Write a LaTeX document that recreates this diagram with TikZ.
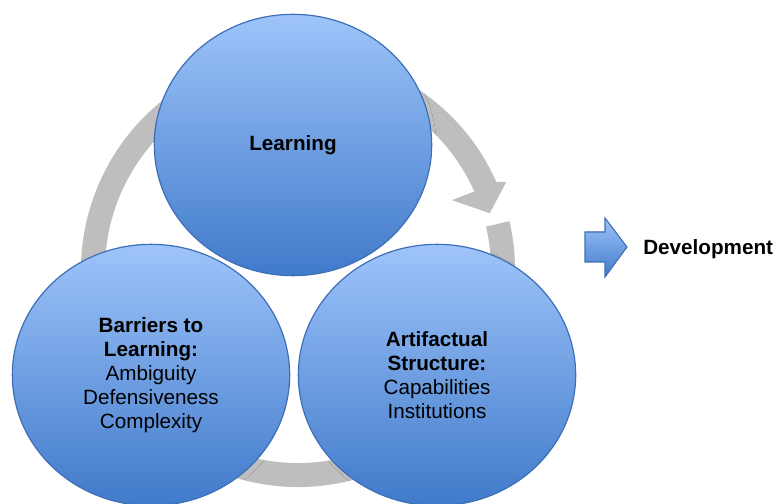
\documentclass[tikz,border=0pt]{standalone}
\usepackage{fontspec}
\setmainfont{Liberation Sans}
\usetikzlibrary{shapes.geometric,shadows.blur}
\definecolor{blueTop}{RGB}{158,196,250}
\definecolor{blueBot}{RGB}{64,122,202}
\definecolor{blueEdge}{RGB}{62,111,182}
\definecolor{ringGray}{RGB}{190,190,190}
\begin{document}
\begin{tikzpicture}[x=0.75pt,y=0.75pt,
  bubble/.style={ellipse, draw=blueEdge, line width=0.9pt,
    top color=blueTop, bottom color=blueBot,
    minimum width=208pt, minimum height=196pt, inner sep=0pt,
    align=center, font=\fontsize{15.5}{18}\selectfont,
    blur shadow={shadow xshift=1.5pt, shadow yshift=-2pt, shadow opacity=0.25, shadow blur steps=6}},
  ringfill/.style={fill=ringGray},
  txt/.style={font=\fontsize{15.5}{18}\selectfont\bfseries}
]
\useasboundingbox (0,0) rectangle (780,503);
% circular arrow behind the bubbles
\fill[ringfill] ([shift={(298,233)}]13:193) arc[start angle=13, end angle=-336, radius=193]
  -- ([shift={(298,233)}]-335.6:169)
  -- ([shift={(298,233)}]-343.5:200)
  -- ([shift={(298,233)}]-337.1:226)
  -- ([shift={(298,233)}]-336:217)
  arc[start angle=-336, end angle=13, radius=217] -- cycle;
% bubbles
\node[bubble] (learn) at (293,358) {\textbf{Learning}};
\node[bubble] (barr) at (151,128) {\textbf{Barriers to}\\\textbf{Learning:}\\Ambiguity\\Defensiveness\\Complexity};
\node[bubble] (arti) at (437,128) {\textbf{Artifactual}\\\textbf{Structure:}\\Capabilities\\Institutions};
% development arrow
\fill[top color=blueTop, bottom color=blueBot, draw=blueEdge, line width=0.8pt,
  blur shadow={shadow xshift=1pt, shadow yshift=-1.5pt, shadow opacity=0.25}]
  (585,271) -- (605,271) -- (605,285) -- (627,256) -- (605,226) -- (605,241) -- (585,241) -- cycle;
\node[txt, anchor=base west, inner sep=0pt] (dev) at (643,248) {Development};
\end{tikzpicture}
\end{document}
